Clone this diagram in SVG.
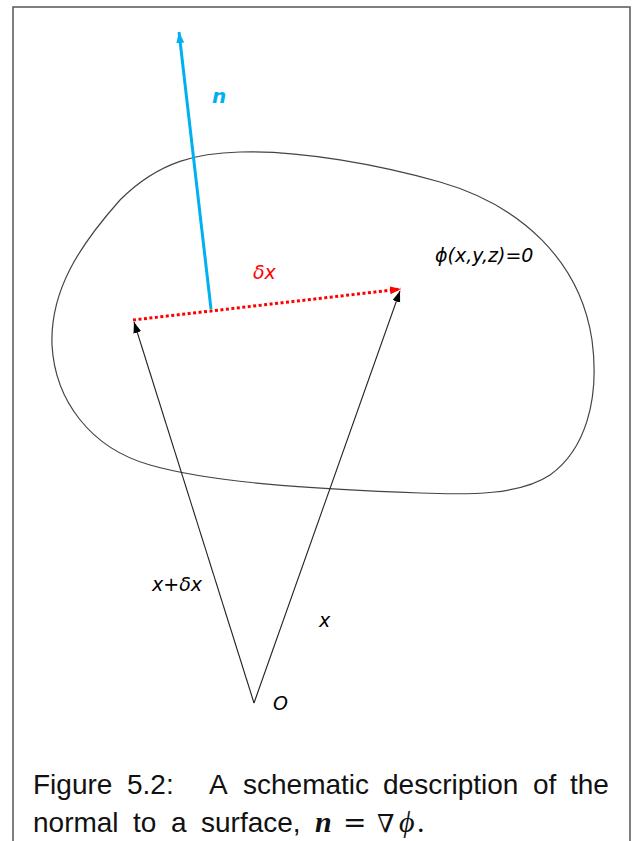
<svg xmlns="http://www.w3.org/2000/svg" width="633" height="841" viewBox="0 0 633 841">
<style>
.lbl{font-family:"DejaVu Sans",Verdana,sans-serif;font-style:oblique;font-size:19px;fill:#000}
.cap{font-family:"Liberation Sans",Arial,sans-serif;font-size:28px;fill:#111}
.math{font-family:"Liberation Serif","Times New Roman",serif;font-size:30px;fill:#111}
.vec{stroke:#222;stroke-width:1.1;fill:none}
</style>
<defs>
<marker id="ah" markerUnits="userSpaceOnUse" markerWidth="12" markerHeight="10" refX="11" refY="4" orient="auto">
<path d="M0,0 L11,4 L0,8 Z" fill="#000"/>
</marker>
<marker id="ahb" markerUnits="userSpaceOnUse" markerWidth="12" markerHeight="10" refX="11" refY="4" orient="auto">
<path d="M0,0 L11,4 L0,8 Z" fill="#00B0F0"/>
</marker>
<marker id="ahr" markerUnits="userSpaceOnUse" markerWidth="12" markerHeight="10" refX="11" refY="4" orient="auto">
<path d="M0,0 L11,4 L0,8 Z" fill="#FF0000"/>
</marker>
</defs>
<rect width="633" height="841" fill="#fff"/>
<path d="M13,841 V7 H630 V841" fill="none" stroke="#555" stroke-width="1.5"/>
<g id="surface">
<path d="M240,152 C300,150 380,165 440,182 C520,205 580,260 592,340 C600,400 585,450 550,475 C520,495 470,495 420,493 C340,490 220,485 150,465 C90,448 55,400 52,345 C50,290 80,245 120,200 C160,160 200,153 240,152 Z" fill="none" stroke="#444" stroke-width="1.2"/>
<text class="lbl" x="435" y="262">ϕ(x,y,z)=0</text>
</g>
<g id="connectors">
<line id="vec-x-dx" class="vec" x1="254" y1="703" x2="134" y2="322" marker-end="url(#ah)"/>
<line id="vec-x" class="vec" x1="254" y1="703" x2="400" y2="291" marker-end="url(#ah)"/>
<line id="vec-dx" x1="133" y1="320" x2="401" y2="289" stroke="#FF0000" stroke-width="3" stroke-dasharray="3 2.5" marker-end="url(#ahr)"/>
<line id="vec-n" x1="211" y1="309" x2="179" y2="32" stroke="#00B0F0" stroke-width="3" marker-end="url(#ahb)"/>
</g>
<g id="labels">
<text class="lbl" x="212" y="103" style="font-weight:bold;fill:#00B0F0;font-size:20px">n</text>
<text class="lbl" x="253" y="279" style="fill:#FF0000">δx</text>
<text class="lbl" x="152" y="591">x+δx</text>
<text class="lbl" x="319" y="627">x</text>
<text class="lbl" x="273" y="710">O</text>
</g>
<g id="caption">
<text class="cap" y="794"><tspan x="33">Figure</tspan> <tspan x="127">5.2:</tspan> <tspan x="209">A</tspan> <tspan x="243">schematic</tspan> <tspan x="383">description</tspan> <tspan x="533">of</tspan> <tspan x="570">the</tspan></text>
<text class="cap" y="832"><tspan x="33">normal</tspan> <tspan x="133">to</tspan> <tspan x="171">a</tspan> <tspan x="201">surface,</tspan></text>
<text class="math" x="315" y="832" style="font-style:italic;font-weight:bold">n</text>
<text x="343" y="832" style="font-family:'DejaVu Serif',serif;font-size:28px;fill:#111">=</text>
<text x="377" y="832" style="font-family:'DejaVu Serif',serif;font-size:25px;fill:#111">∇</text>
<text class="math" x="399" y="832" style="font-style:italic">ϕ</text>
<text class="math" x="417" y="832">.</text>
</g>
</svg>
